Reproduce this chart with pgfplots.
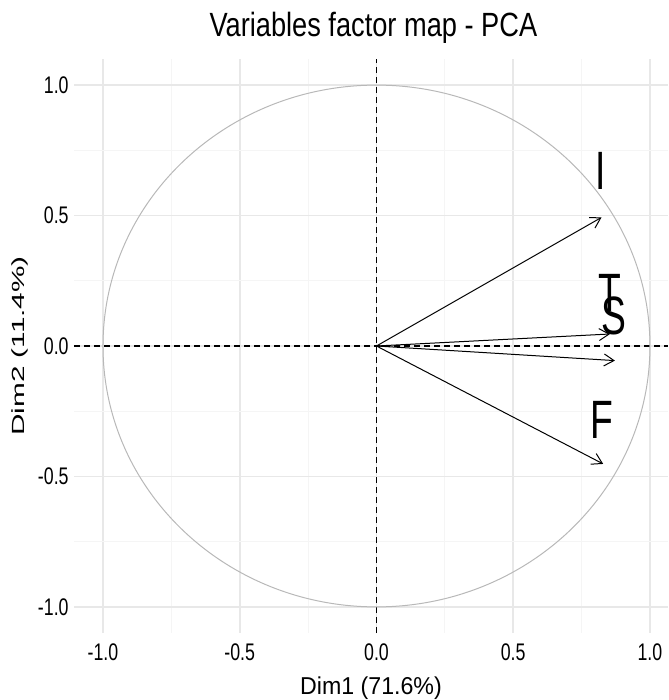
\documentclass[border=0pt]{standalone}
\usepackage{pgfplots}
\usepackage{pgfplotstable}
\pgfplotsset{compat=1.18}
\usetikzlibrary{arrows.meta}
\usepackage{fontspec}
\setmainfont{Liberation Sans}
\newfontfamily\titlefont{Liberation Sans}[FakeStretch=0.81]
\newfontfamily\tickfont{Liberation Sans}[FakeStretch=0.74]
\newfontfamily\labfont{Liberation Sans}[FakeStretch=0.95]
\newfontfamily\ylabfont{Liberation Sans}[FakeStretch=1.69]
\newfontfamily\letfont{Liberation Sans}[FakeStretch=0.69]

\pgfplotstableread{
x y lab
0.821 0.672 I
0.854 0.203 T
0.868 0.117 S
0.825 -0.284 F
}\labtable

\begin{document}
\begin{tikzpicture}
\begin{axis}[
  at={(0,0)}, anchor=south west,
  width=297pt, height=287pt, scale only axis,
  xmin=-1.106, xmax=1.066, ymin=-1.1, ymax=1.1,
  axis line style={draw=none},
  major tick length=0pt, minor tick length=0pt,
  xtick={-1,-0.5,0,0.5,1}, ytick={-1,-0.5,0,0.5,1},
  xticklabels={-1.0,-0.5,0.0,0.5,1.0},
  yticklabels={-1.0,-0.5,0.0,0.5,1.0},
  minor xtick={-0.75,-0.25,0.25,0.75},
  minor ytick={-0.75,-0.25,0.25,0.75},
  grid=both,
  major grid style={color=black!9, line width=0.9pt},
  minor grid style={color=black!4, line width=0.5pt},
  extra x ticks={0}, extra y ticks={0},
  extra x tick labels={}, extra y tick labels={},
  extra tick style={major grid style={black, line width=0.6pt, dash pattern=on 3pt off 2pt}},
  xticklabel style={font=\tickfont\fontsize{12}{14}\selectfont, anchor=north, inner sep=0pt, yshift=-5pt},
  yticklabel style={font=\tickfont\fontsize{12}{14}\selectfont, anchor=east, inner sep=0pt, xshift=-2.5pt},
  every axis title shift=0pt,
  title={\titlefont\fontsize{16.8}{19}\selectfont Variables factor map - PCA},
  title style={at={(axis description cs:0.504,1.0389)}, anchor=base, inner sep=0pt},
  xlabel={\labfont\fontsize{12.2}{14}\selectfont Dim1 (71.6\%)},
  xlabel style={at={(axis description cs:0.5,-0.108)}, anchor=base, inner sep=0pt},
  ylabel={\ylabfont\fontsize{8.8}{10}\selectfont Dim2 (11.4\%)},
  ylabel style={at={(axis description cs:-0.0909,0.5)}, anchor=center, inner sep=0pt},
]
\draw[color=black!28, line width=0.5pt] (axis cs:0,0) ellipse [x radius=1, y radius=1];
\addplot[black, line width=0.5pt, -{Straight Barb[length=5pt, width=6pt]}] coordinates {(0,0) (0.823,0.493)};
\addplot[black, line width=0.5pt, -{Straight Barb[length=5pt, width=6pt]}] coordinates {(0,0) (0.854,0.046)};
\addplot[black, line width=0.5pt, -{Straight Barb[length=5pt, width=6pt]}] coordinates {(0,0) (0.872,-0.056)};
\addplot[black, line width=0.5pt, -{Straight Barb[length=5pt, width=6pt]}] coordinates {(0,0) (0.829,-0.452)};
\addplot[draw=none, nodes near coords, point meta=explicit symbolic,
  nodes near coords style={anchor=center, inner sep=0pt, font=\letfont\fontsize{27}{30}\selectfont}]
  table[x=x, y=y, meta=lab] {\labtable};
\end{axis}
\pgfresetboundingbox
\path[use as bounding box] (-37pt,-33.5pt) rectangle (297pt,316.5pt);
\end{tikzpicture}
\end{document}
